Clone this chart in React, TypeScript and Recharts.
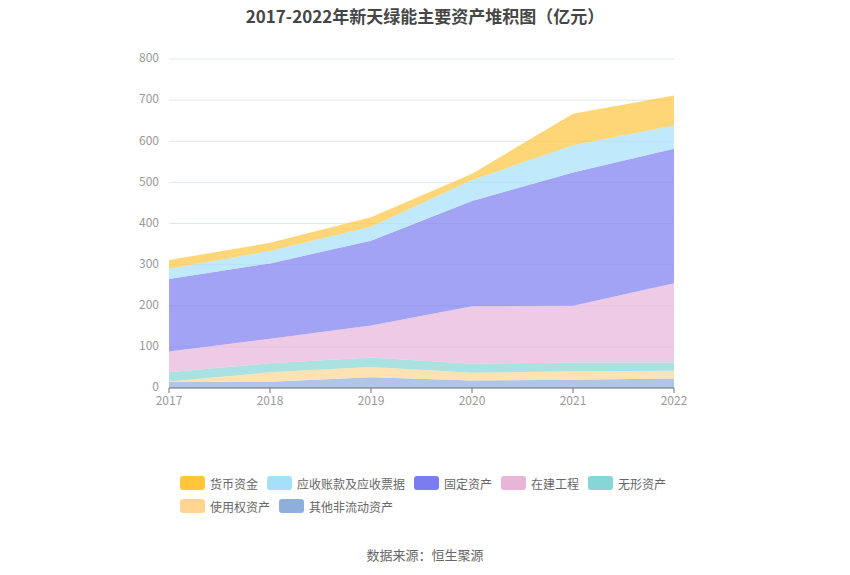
import * as React from "react";
import { AreaChart, Area, XAxis, YAxis, CartesianGrid } from "recharts";

const years = ["2017", "2018", "2019", "2020", "2021", "2022"];

// 亿元 (bottom layer first)
const otherNonCurrent = [15, 15, 26, 18, 20, 23];
const rightOfUse = [1, 23, 25, 19, 21, 19];
const intangible = [22, 22, 23, 22, 21, 20];
const construction = [51, 60, 78, 140, 138, 193];
const fixedAssets = [176, 183, 206, 256, 324, 327];
const receivables = [25, 30, 34, 51, 66, 56];
const cash = [21, 20, 23, 15, 77, 73];

const yTicks = [0, 100, 200, 300, 400, 500, 600, 700, 800];

const series = [
  { key: "cash", name: "货币资金", color: "#ffc53d" },
  { key: "receivables", name: "应收账款及应收票据", color: "#a5dff9" },
  { key: "fixedAssets", name: "固定资产", color: "#7a7cf0" },
  { key: "construction", name: "在建工程", color: "#e8b4d8" },
  { key: "intangible", name: "无形资产", color: "#86d6d6" },
  { key: "rightOfUse", name: "使用权资产", color: "#ffd591" },
  { key: "otherNonCurrent", name: "其他非流动资产", color: "#8eaedb" },
];

const font = '"Noto Sans CJK SC", "Noto Sans", sans-serif';

export default function App() {
  const chartData = React.useMemo(
    () =>
      years.map((year, i) => ({
        year,
        otherNonCurrent: otherNonCurrent[i],
        rightOfUse: rightOfUse[i],
        intangible: intangible[i],
        construction: construction[i],
        fixedAssets: fixedAssets[i],
        receivables: receivables[i],
        cash: cash[i],
      })),
    []
  );

  // stack goes bottom -> top, so draw the series list in reverse
  const stackOrder = [...series].reverse();

  return (
    <div
      style={{
        position: "absolute",
        left: 0,
        top: 0,
        width: 850,
        height: 575,
        background: "#fff",
        fontFamily: font,
      }}
    >
      <div
        style={{
          position: "absolute",
          top: 3,
          width: 850,
          textAlign: "center",
          fontSize: 17,
          fontWeight: "bold",
          color: "#464646",
        }}
      >
        2017-2022年新天绿能主要资产堆积图（亿元）
      </div>

      <AreaChart
        width={850}
        height={575}
        data={chartData}
        margin={{ top: 59, right: 176, left: 129, bottom: 157 }}
      >
        <CartesianGrid vertical={false} stroke="#e0e6f1" />
        <XAxis
          dataKey="year"
          height={30}
          stroke="#6e7079"
          tickSize={5}
          tick={{ fill: "#999", fontSize: 12, fontFamily: font, dy: 1 }}
          padding={{ left: 0, right: 0 }}
        />
        <YAxis
          width={40}
          domain={[0, 800]}
          ticks={yTicks}
          axisLine={false}
          tickLine={false}
          tick={{ fill: "#999", fontSize: 12, fontFamily: font, dy: -1, dx: -2 }}
        />
        {stackOrder.map((s) => (
          <Area
            key={s.key}
            type="linear"
            dataKey={s.key}
            name={s.name}
            stackId="a"
            stroke="none"
            fill={s.color}
            fillOpacity={0.7}
            isAnimationActive={false}
          />
        ))}
      </AreaChart>

      <div
        style={{
          position: "absolute",
          left: 180,
          top: 476,
          width: 510,
          display: "flex",
          flexWrap: "wrap",
          rowGap: 9,
          columnGap: 9,
          fontSize: 12,
          color: "#666",
        }}
      >
        {series.map((s) => (
          <div key={s.key} style={{ display: "flex", alignItems: "center", height: 14 }}>
            <span
              style={{
                display: "inline-block",
                width: 25,
                height: 14,
                borderRadius: 3,
                background: s.color,
                marginRight: 5,
              }}
            />
            <span>{s.name}</span>
          </div>
        ))}
      </div>

      <div
        style={{
          position: "absolute",
          top: 545,
          width: 850,
          textAlign: "center",
          fontSize: 13,
          color: "#666",
        }}
      >
        数据来源：恒生聚源
      </div>
    </div>
  );
}
